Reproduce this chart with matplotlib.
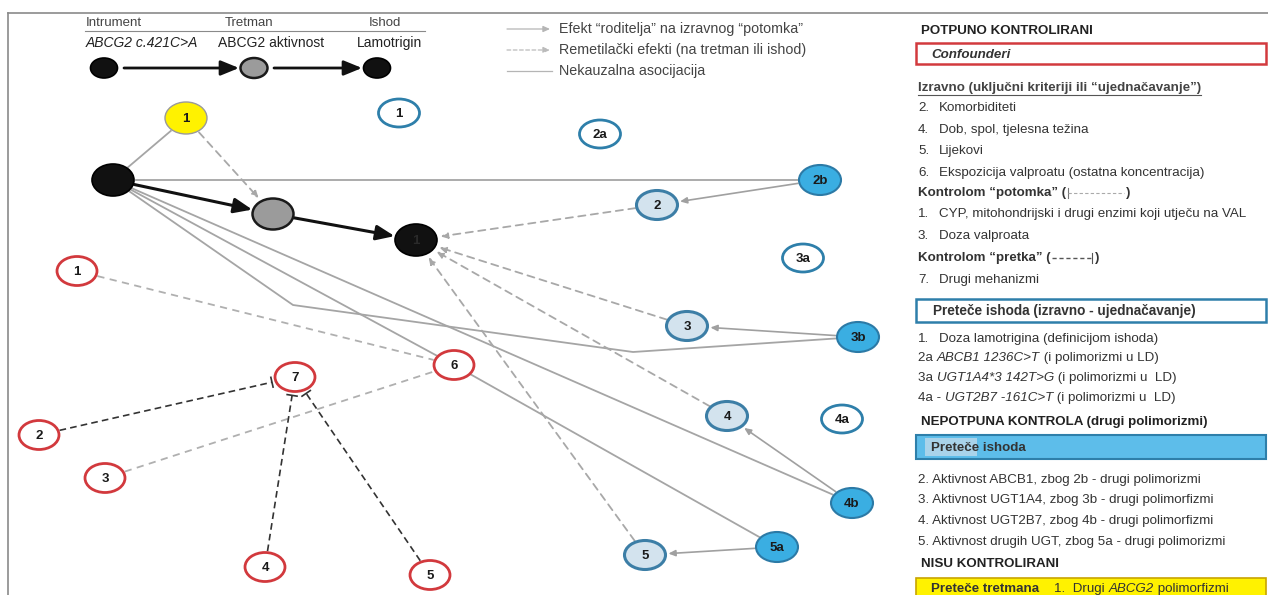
import numpy as np
import matplotlib.pyplot as plt
from matplotlib.patches import Ellipse, Rectangle, FancyArrowPatch

plt.rcParams['font.family'] = ['Liberation Sans', 'DejaVu Sans']

# ---- nodes of the diagram (pixel positions) ----
node_ids = ['instr', 'treat', 'outc', 'y1', 'b1', 'b2a', 'b2b', 'b2', 'b3a', 'b3', 'b3b',
            'b4', 'b4a', 'b4b', 'b5', 'b5a', 'r1', 'r2', 'r3', 'r4', 'r5', 'r6', 'r7']
node_x = [113, 273, 416, 186, 399, 600, 820, 657, 803, 687, 858,
          727, 842, 852, 645, 777, 77, 39, 105, 265, 430, 454, 295]
node_y = [180, 214, 240, 118, 113, 134, 180, 205, 258, 326, 337,
          416, 419, 503, 555, 547, 271, 435, 478, 567, 575, 365, 377]
node_labels = ['', '', '1', '1', '1', '2a', '2b', '2', '3a', '3', '3b',
               '4', '4a', '4b', '5', '5a', '1', '2', '3', '4', '5', '6', '7']
node_kind = ['black', 'gray', 'black', 'yellow', 'open', 'open', 'filled', 'light', 'open',
             'light', 'filled', 'light', 'open', 'filled', 'light', 'filled',
             'red', 'red', 'red', 'red', 'red', 'red', 'red']

# ---- edges ----
thick_edges = [('instr', 'treat'), ('treat', 'outc')]
assoc_edges = [('y1', 'instr'), ('instr', 'b2b'), ('instr', 'r6'), ('instr', 'b4b'), ('r6', 'b5a')]
assoc_bent = [('instr', 'b3b', [(293, 305), (633, 352)])]
effect_edges = [('b2b', 'b2'), ('b3b', 'b3'), ('b4b', 'b4'), ('b5a', 'b5')]
confound_edges = [('y1', 'treat'), ('b2', 'outc'), ('b3', 'outc'), ('b4', 'outc'), ('b5', 'outc')]
descendant_edges = [('r1', 'r6'), ('r3', 'r6')]
ancestor_edges = [('r2', 'r7'), ('r4', 'r7'), ('r5', 'r7')]

# ---- top legend chain ----
chain_x = [104, 254, 377]
chain_kind = ['black', 'gray', 'black']
chain_head = ['Intrument', 'Tretman', 'Ishod']
chain_sub = ['ABCG2 c.421C>A', 'ABCG2 aktivnost', 'Lamotrigin']

legend_labels = ['Efekt \u201croditelja\u201d na izravnog \u201cpotomka\u201d',
                 'Remetila\u010dki efekti (na tretman ili ishod)',
                 'Nekauzalna asocijacija']

styles = {
    'black': dict(fc='#111111', ec='#000000', lw=1.2, w=42, h=32),
    'gray': dict(fc='#9b9b9b', ec='#1a1a1a', lw=1.8, w=41, h=31),
    'yellow': dict(fc='#FFF200', ec='#9a9a9a', lw=1.0, w=42, h=32),
    'open': dict(fc='white', ec='#2E7FAA', lw=2.0, w=41, h=28),
    'filled': dict(fc='#3AAEE2', ec='#2C7AA6', lw=1.5, w=42, h=30),
    'light': dict(fc='#D3E3EE', ec='#3C7EA6', lw=2.2, w=41, h=29),
    'red': dict(fc='white', ec='#D2393D', lw=2.0, w=40, h=29),
}

fig = plt.figure(figsize=(12.68, 5.95), dpi=100)
ax = fig.add_axes([0, 0, 1, 1])
ax.set_xlim(0, 1268)
ax.set_ylim(595, 0)
ax.axis('off')

pos = {n: (x, y) for n, x, y in zip(node_ids, node_x, node_y)}
kind = dict(zip(node_ids, node_kind))


def rim(n, tx, ty, gap=0.0):
    cx, cy = pos[n]
    st = styles[kind[n]]
    a, b = st['w'] / 2 + gap, st['h'] / 2 + gap
    dx, dy = tx - cx, ty - cy
    t = 1.0 / np.sqrt((dx / a) ** 2 + (dy / b) ** 2)
    return cx + t * dx, cy + t * dy


def ends(n1, n2, g1=1.5, g2=1.5):
    p1 = rim(n1, *pos[n2], gap=g1)
    p2 = rim(n2, *pos[n1], gap=g2)
    return p1, p2


def arrow(p1, p2, color, lw, ls='-', head=(4, 2), z=2):
    style = '-|>,head_length=%g,head_width=%g' % head if head else '-'
    a = FancyArrowPatch(p1, p2, arrowstyle=style, color=color, lw=lw, linestyle=ls,
                        shrinkA=0, shrinkB=0, mutation_scale=1, zorder=z)
    ax.add_patch(a)


# frame
ax.plot([8, 1268], [13, 13], color='#8a8a8a', lw=1.2)
ax.plot([8, 8], [13, 595], color='#8a8a8a', lw=1.2)

# gray association lines
for a_, b_ in assoc_edges:
    (x1, y1), (x2, y2) = ends(a_, b_)
    ax.plot([x1, x2], [y1, y2], color='#a5a5a5', lw=1.3, zorder=1)
for a_, b_, mids in assoc_bent:
    start = rim(a_, *mids[0], gap=1.5)
    end = rim(b_, *mids[-1], gap=1.5)
    pts = [start] + mids + [end]
    ax.plot([p[0] for p in pts], [p[1] for p in pts], color='#a5a5a5', lw=1.3, zorder=1)

for a_, b_ in effect_edges:
    p1, p2 = ends(a_, b_, 1.5, 3)
    arrow(p1, p2, '#a0a0a0', 1.2, head=(4, 1.8))

for a_, b_ in confound_edges:
    p1, p2 = ends(a_, b_, 1.5, 4)
    arrow(p1, p2, '#a8a8a8', 1.3, ls=(0, (4, 3)), head=(4, 1.8))

for a_, b_ in descendant_edges:
    (x1, y1), (x2, y2) = ends(a_, b_)
    ax.plot([x1, x2], [y1, y2], color='#b0b0b0', lw=1.3, ls=(0, (4, 3)), zorder=1)

for a_, b_ in ancestor_edges:
    (x1, y1), (x2, y2) = ends(a_, b_, 1.5, 4)
    ax.plot([x1, x2], [y1, y2], color='#333333', lw=1.2, ls=(0, (4, 2.5)), zorder=2)
    d = np.array([x2 - x1, y2 - y1]) / np.hypot(x2 - x1, y2 - y1)
    nrm = np.array([-d[1], d[0]]) * 5
    ax.plot([x2 - nrm[0], x2 + nrm[0]], [y2 - nrm[1], y2 + nrm[1]], color='#333333', lw=1.2, zorder=2)

for a_, b_ in thick_edges:
    p1, p2 = ends(a_, b_, 1, 1)
    arrow(p1, p2, '#111111', 2.2, head=(11, 4.5), z=3)

# nodes
for n, x, y, lab, k in zip(node_ids, node_x, node_y, node_labels, node_kind):
    st = styles[k]
    ax.add_patch(Ellipse((x, y), st['w'], st['h'], fc=st['fc'], ec=st['ec'], lw=st['lw'], zorder=4))
    if lab:
        col = '#2a2a2a' if k == 'black' else '#1a1a1a'
        ax.text(x, y + 1, lab, ha='center', va='center', fontsize=9.5, fontweight='bold',
                color=col, zorder=5)

# top chain legend
for i, (cx, k) in enumerate(zip(chain_x, chain_kind)):
    st = styles[k]
    ax.add_patch(Ellipse((cx, 68), 27, 20, fc=st['fc'], ec=st['ec'], lw=st['lw'], zorder=4))
for i in range(len(chain_x) - 1):
    arrow((chain_x[i] + 20, 68), (chain_x[i + 1] - 15, 68), '#111111', 2.0, head=(11, 4.5))
ax.text(86, 23, chain_head[0], fontsize=9.5, color='#444444', va='center', ha='left')
ax.text(249, 23, chain_head[1], fontsize=9.5, color='#444444', va='center', ha='center')
ax.text(385, 23, chain_head[2], fontsize=9.5, color='#444444', va='center', ha='center')
ax.plot([85, 425], [31, 31], color='#8a8a8a', lw=0.8)
ax.text(86, 43, chain_sub[0], fontsize=10, style='italic', color='#222222', va='center', ha='left')
ax.text(271, 43, chain_sub[1], fontsize=10, color='#222222', va='center', ha='center')
ax.text(389, 43, chain_sub[2], fontsize=10, color='#222222', va='center', ha='center')

# line-style legend
leg_y = [29, 50, 71]
arrow((507, leg_y[0]), (550, leg_y[0]), '#b5b5b5', 0.9, head=(4, 1.8))
arrow((507, leg_y[1]), (550, leg_y[1]), '#bbbbbb', 0.9, ls=(0, (3, 2)), head=(4, 1.8))
ax.plot([507, 552], [leg_y[2], leg_y[2]], color='#b5b5b5', lw=0.9)
for yy, lab in zip(leg_y, legend_labels):
    ax.text(559, yy, lab, fontsize=10.3, color='#444444', va='center', ha='left')

# ---- right-hand text panel ----
fig.canvas.draw()
rend = fig.canvas.get_renderer()

FS = 9.6


def runs(x, y, parts, size=FS, color='#333333'):
    for txt, kw in parts:
        t = ax.text(x, y, txt, fontsize=size, color=color, va='center', ha='left', **kw)
        x += t.get_window_extent(rend).width
    return x


def item(y, num, txt, indent=21):
    runs(TX, y, [(num, {})])
    runs(TX + indent, y, [(txt, {})])


TX = 918
B = dict(fontweight='bold')
I = dict(style='italic')

ax.text(TX + 3, 31, 'POTPUNO KONTROLIRANI', fontsize=9.6, fontweight='bold', color='#222222', va='center')
ax.add_patch(Rectangle((916, 43), 350, 21, fc='white', ec='#D23A3E', lw=1.8))
ax.text(931, 54.5, 'Confounderi', fontsize=9.6, fontweight='bold', style='italic', color='#333333', va='center')

x_end = runs(TX, 88, [('Izravno (uklju\u010dni kriteriji ili \u201cujedna\u010davanje\u201d)', B)], color='#444444')
ax.plot([TX, x_end], [95, 95], color='#555555', lw=0.8)

items_a_num = ['2.', '4.', '5.', '6.']
items_a = ['Komorbiditeti', 'Dob, spol, tjelesna te\u017eina', 'Lijekovi',
           'Ekspozicija valproatu (ostatna koncentracija)']
items_a_y = [108, 130, 151, 173]
for yy, nn, s in zip(items_a_y, items_a_num, items_a):
    item(yy, nn, s)

x1 = runs(TX, 193, [('Kontrolom \u201cpotomka\u201d (', B)])
ax.plot([x1 + 2, x1 + 2], [188, 198], color='#777777', lw=0.8)
ax.plot([x1 + 2, x1 + 58], [193, 193], color='#aaaaaa', lw=0.8, ls=(0, (3, 2)))
runs(x1 + 60, 193, [(')', B)])

item(214, '1.', 'CYP, mitohondrijski i drugi enzimi koji utje\u010du na VAL')
item(236, '3.', 'Doza valproata')

x1 = runs(TX, 258, [('Kontrolom \u201cpretka\u201d (', B)])
ax.plot([x1 + 1, x1 + 40], [258, 258], color='#555555', lw=1.0, ls=(0, (3, 2)))
ax.plot([x1 + 41, x1 + 41], [253, 263], color='#555555', lw=0.8)
runs(x1 + 44, 258, [(')', B)])
item(280, '7.', 'Drugi mehanizmi')

ax.add_patch(Rectangle((916, 299), 350, 23, fc='white', ec='#2E7FAA', lw=1.8))
ax.text(933, 311.5, 'Prete\u010de ishoda (izravno - ujedna\u010davanje)', fontsize=9.8,
        fontweight='bold', color='#333333', va='center')

item(339, '1.', 'Doza lamotrigina (definicijom ishoda)')
runs(TX, 358, [('2a ', {}), ('ABCB1 1236C>T', I), (' (i polimorizmi u LD)', {})])
runs(TX, 378, [('3a ', {}), ('UGT1A4*3 142T>G', I), (' (i polimorizmi u  LD)', {})])
runs(TX, 398, [('4a - ', {}), ('UGT2B7 -161C>T', I), (' (i polimorizmi u  LD)', {})])

ax.text(TX + 3, 422, 'NEPOTPUNA KONTROLA (drugi polimorizmi)', fontsize=9.6, fontweight='bold',
        color='#222222', va='center')
ax.add_patch(Rectangle((916, 435), 350, 24, fc='#5DBDEA', ec='#2E7FAA', lw=1.5))
ax.add_patch(Rectangle((925, 438), 52, 18, fc='#A9D3EA', ec='none'))
ax.text(931, 448, 'Prete\u010de ishoda', fontsize=9.6, fontweight='bold', color='#333333', va='center')

items_c = ['2. Aktivnost ABCB1, zbog 2b - drugi polimorizmi',
           '3. Aktivnost UGT1A4, zbog 3b - drugi polimorfizmi',
           '4. Aktivnost UGT2B7, zbog 4b - drugi polimorfizmi',
           '5. Aktivnost drugih UGT, zbog 5a - drugi polimorizmi']
for yy, s in zip([480, 500, 521, 542], items_c):
    runs(TX, yy, [(s, {})])

ax.text(TX + 3, 564, 'NISU KONTROLIRANI', fontsize=9.6, fontweight='bold', color='#222222', va='center')
ax.add_patch(Rectangle((916, 578), 350, 20, fc='#FFF200', ec='#C8A400', lw=1.2))
runs(931, 589, [('Prete\u010de tretmana', B), ('    1.  Drugi ', {}), ('ABCG2', I), (' polimorfizmi', {})])

fig.savefig('out.png', dpi=100)
